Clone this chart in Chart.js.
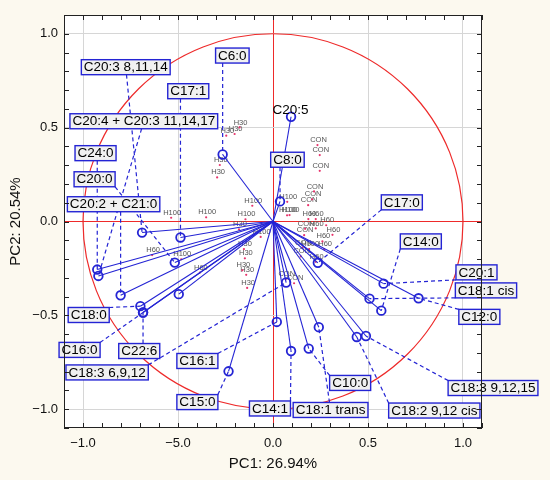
<!DOCTYPE html>
<html>
<head>
<meta charset="utf-8">
<script src="https://cdn.jsdelivr.net/npm/chart.js@4.4.1/dist/chart.umd.min.js"></script>
<style>
  body { margin: 0; background: #fcf9ef; }
  #wrap { width: 550px; height: 480px; }
</style>
</head>
<body>
<div id="wrap"><canvas id="pcaChart"></canvas></div>
<script>
// loadings (variables) - point and label position, in PC units
const varNames = ['C6:0', 'C20:5', 'C8:0', 'C17:1', 'C20:3 8,11,14', 'C20:4 + C20:3 11,14,17',
  'C24:0', 'C20:0', 'C20:2 + C21:0', 'C18:0', 'C16:0', 'C22:6', '', 'C18:3 6,9,12', 'C16:1',
  'C15:0', 'C14:1', 'C18:1 trans', 'C10:0', 'C18:2 9,12 cis', 'C18:3 9,12,15', 'C12:0',
  'C18:1 cis', 'C20:1', 'C14:0', 'C17:0'];
const varX = [-0.265, 0.095, 0.037, -0.487, -0.689, -0.919, -0.925, -0.517, -0.802, -0.698, -0.684,
  -0.684, -0.496, 0.069, 0.020, -0.234, 0.095, 0.241, 0.188, 0.441, 0.489, 0.766, 0.508, 0.582, 0.570, 0.236];
const varY = [0.357, 0.558, 0.107, -0.085, -0.059, -0.290, -0.256, -0.219, -0.393, -0.451, -0.485,
  -0.485, -0.387, -0.325, -0.535, -0.798, -0.690, -0.563, -0.677, -0.615, -0.610, -0.409, -0.411, -0.331, -0.475, -0.220];
const labelX = [-0.214, 0.092, 0.076, -0.446, -0.775, -0.680, -0.934, -0.939, -0.839, -0.970, -1.018,
  -0.704, null, -0.873, -0.398, -0.398, -0.016, 0.303, 0.406, 0.849, 1.158, 1.086, 1.121, 1.071, 0.778, 0.678];
const labelY = [0.884, 0.593, 0.329, 0.694, 0.822, 0.534, 0.364, 0.225, 0.092, -0.498, -0.684,
  -0.690, null, -0.804, -0.743, -0.962, -0.996, -1.004, -0.860, -1.007, -0.887, -0.508, -0.367, -0.271, -0.106, 0.102];
const plainLabels = ['C20:5'];
// these connectors leave the box where the line from its centre crosses the edge
const centreAnchored = ['C20:4 + C20:3 11,14,17', 'C20:3 8,11,14', 'C18:1 trans'];

// scores (samples)
const sampleNames = ['H30', 'H30', 'H30', 'H30', 'H30', 'H100', 'H100', 'H100', 'H100', 'H100', 'H100',
  'H100', 'H30', 'H100', 'H30', 'H30', 'H30', 'H30', 'H30', 'H60', 'H60', 'H100', 'CON', 'CON', 'CON',
  'CON', 'CON', 'CON', 'H60', 'H60', 'H60', 'CON', 'H60', 'H60', 'CON', 'H60', 'H60', 'CON', 'H100',
  'CON', 'H60', 'CON', 'CON'];
const sampleX = [-0.176, -0.202, -0.246, -0.280, -0.294, -0.109, 0.075, 0.087, 0.074, -0.352, -0.145,
  -0.536, -0.179, -0.065, -0.153, -0.148, -0.161, -0.141, -0.136, -0.385, -0.636, -0.483, 0.234, 0.246,
  0.246, 0.216, 0.206, 0.185, 0.186, 0.225, 0.280, 0.169, 0.225, 0.313, 0.164, 0.260, 0.269, 0.155,
  0.190, 0.146, 0.225, 0.067, 0.111];
const sampleY = [0.501, 0.466, 0.457, 0.301, 0.235, 0.084, 0.105, 0.034, 0.033, 0.022, 0.012, 0.020,
  -0.042, -0.082, -0.147, -0.196, -0.260, -0.284, -0.354, -0.272, -0.179, -0.201, 0.407, 0.354, 0.270,
  0.160, 0.118, 0.087, 0.013, 0.013, -0.020, -0.039, -0.037, -0.071, -0.073, -0.106, -0.147, -0.139,
  -0.147, -0.186, -0.215, -0.308, -0.329];

const tickValues = [-1, -0.5, 0, 0.5, 1];
const xTickLabels = ['\u22121.0', '\u22125.0', '0.0', '0.5', '1.0'];
const yTickLabels = ['\u22121.0', '\u22120.5', '0.0', '0.5', '1.0'];

const blue = '#2424d4';
const red = '#ee2a2a';
const font = "'Liberation Sans', Arial, sans-serif";

const near = (a, b) => Math.abs(a - b) < 1e-6;
const tickIndex = v => tickValues.findIndex(t => near(t, v));

const gridColor = ctx => {
  const v = ctx.tick.value;
  if (near(v, 0)) return red;
  return tickIndex(v) >= 0 ? '#d6d6d6' : 'rgba(0,0,0,0)';
};

const vectorSets = varNames.map((name, i) => ({
  label: name || 'v' + i,
  data: [{ x: 0, y: 0 }, { x: varX[i], y: varY[i] }],
  showLine: true,
  borderColor: blue,
  borderWidth: 1.1,
  pointRadius: [0, 4.3],
  pointBorderWidth: 1.8,
  pointBorderColor: blue,
  pointBackgroundColor: 'rgba(0,0,0,0)',
  order: 1
}));

const sampleSet = {
  label: 'samples',
  data: sampleX.map((x, i) => ({ x: x, y: sampleY[i] })),
  pointRadius: 1.1,
  pointBorderWidth: 0,
  pointBackgroundColor: '#e8336b',
  order: 2
};

// where the segment from the box centre to (px,py) leaves the box
function edgeExit(b, px, py) {
  const dx = px - b.lx, dy = py - b.ly;
  const tx = dx !== 0 ? (b.w / 2) / Math.abs(dx) : Infinity;
  const ty = dy !== 0 ? (b.h / 2) / Math.abs(dy) : Infinity;
  const t = Math.min(tx, ty, 1);
  return [b.lx + dx * t, b.ly + dy * t];
}

const decor = {
  id: 'decor',
  beforeDraw(chart) {
    const { ctx, chartArea: a } = chart;
    ctx.save();
    ctx.fillStyle = '#fcf9ef';
    ctx.fillRect(0, 0, chart.width, chart.height);
    ctx.fillStyle = '#ffffff';
    ctx.fillRect(a.left, a.top, a.right - a.left, a.bottom - a.top);
    ctx.restore();
  },
  beforeDatasetsDraw(chart) {
    const { ctx, scales: { x, y } } = chart;
    const cx = x.getPixelForValue(0), cy = y.getPixelForValue(0);
    ctx.save();
    // unit circle
    ctx.strokeStyle = red;
    ctx.lineWidth = 1.2;
    ctx.beginPath();
    ctx.ellipse(cx, cy, x.getPixelForValue(1) - cx, cy - y.getPixelForValue(1), 0, 0, Math.PI * 2);
    ctx.stroke();
    // sample names
    ctx.font = '7.5px ' + font;
    ctx.fillStyle = '#555';
    ctx.textAlign = 'center';
    ctx.textBaseline = 'middle';
    sampleNames.forEach((s, i) => {
      ctx.fillText(s, x.getPixelForValue(sampleX[i]) + 1, y.getPixelForValue(sampleY[i]) - 5);
    });
    ctx.restore();
  },
  afterDatasetsDraw(chart) {
    const { ctx, chartArea: a, scales: { x, y } } = chart;
    ctx.save();
    ctx.font = '13.5px ' + font;
    const boxes = varNames.map((name, i) => {
      if (!name || labelX[i] === null) return null;
      const w = ctx.measureText(name).width + 5;
      const h = 15;
      const lx = x.getPixelForValue(labelX[i]), ly = y.getPixelForValue(labelY[i]);
      return { name, lx, ly, l: lx - w / 2, t: ly - h / 2, w, h, plain: plainLabels.includes(name) };
    });
    // dashed connectors from box edge to loading point
    ctx.strokeStyle = blue;
    ctx.lineWidth = 1.2;
    ctx.setLineDash([4, 3]);
    boxes.forEach((b, i) => {
      if (!b || b.plain) return;
      const px = x.getPixelForValue(varX[i]), py = y.getPixelForValue(varY[i]);
      let sx, sy;
      if (centreAnchored.includes(b.name)) {
        [sx, sy] = edgeExit(b, px, py);
      } else {
        sx = Math.min(Math.max(px, b.l), b.l + b.w);
        sy = Math.min(Math.max(py, b.t), b.t + b.h);
      }
      ctx.beginPath();
      ctx.moveTo(sx, sy);
      ctx.lineTo(px, py);
      ctx.stroke();
    });
    ctx.setLineDash([]);
    // label boxes
    ctx.textAlign = 'center';
    ctx.textBaseline = 'middle';
    boxes.forEach(b => {
      if (!b) return;
      if (!b.plain) {
        ctx.fillStyle = '#f1f1f1';
        ctx.fillRect(b.l, b.t, b.w, b.h);
        ctx.lineWidth = 1.4;
        ctx.strokeStyle = blue;
        ctx.strokeRect(b.l, b.t, b.w, b.h);
      }
      ctx.fillStyle = '#000';
      ctx.fillText(b.name, b.lx, b.ly + 0.5);
    });
    // frame and inward ticks
    ctx.strokeStyle = '#222';
    ctx.lineWidth = 1;
    ctx.strokeRect(a.left + 0.5, a.top + 0.5, a.right - a.left - 1, a.bottom - a.top - 1);
    ctx.beginPath();
    x.ticks.forEach(t => {
      const px = Math.round(x.getPixelForValue(t.value)) + 0.5;
      ctx.moveTo(px, a.bottom); ctx.lineTo(px, a.bottom - 5);
      ctx.moveTo(px, a.top); ctx.lineTo(px, a.top + 5);
    });
    y.ticks.forEach(t => {
      const py = Math.round(y.getPixelForValue(t.value)) + 0.5;
      ctx.moveTo(a.left, py); ctx.lineTo(a.left + 5, py);
      ctx.moveTo(a.right, py); ctx.lineTo(a.right - 5, py);
    });
    ctx.stroke();
    ctx.restore();
  }
};

const axisBase = {
  type: 'linear',
  min: -1.1,
  max: 1.1,
  grid: { color: gridColor, lineWidth: 1, drawTicks: false },
  border: { display: false }
};

new Chart(document.getElementById('pcaChart'), {
  type: 'scatter',
  data: { datasets: [sampleSet, ...vectorSets] },
  options: {
    responsive: true,
    maintainAspectRatio: false,
    animation: false,
    layout: { padding: { left: 0, top: 15, right: 68, bottom: 0 } },
    plugins: { legend: { display: false }, tooltip: { enabled: false } },
    scales: {
      x: {
        ...axisBase,
        afterFit: s => { s.height = 52; },
        ticks: {
          stepSize: 0.1, autoSkip: false, maxRotation: 0, padding: 8,
          color: '#111', font: { family: font, size: 13 },
          callback: v => { const k = tickIndex(v); return k >= 0 ? xTickLabels[k] : ''; }
        },
        title: { display: true, text: 'PC1: 26.94%', color: '#111', font: { family: font, size: 15 }, padding: { top: 0, bottom: 7 } }
      },
      y: {
        ...axisBase,
        afterFit: s => { s.width = 64; },
        ticks: {
          stepSize: 0.1, autoSkip: false, padding: 6,
          color: '#111', font: { family: font, size: 13 },
          callback: v => { const k = tickIndex(v); return k >= 0 ? yTickLabels[k] : ''; }
        },
        title: { display: true, text: 'PC2: 20.54%', color: '#111', font: { family: font, size: 15 }, padding: { top: 7, bottom: 0 } }
      }
    }
  },
  plugins: [decor]
});
</script>
</body>
</html>
